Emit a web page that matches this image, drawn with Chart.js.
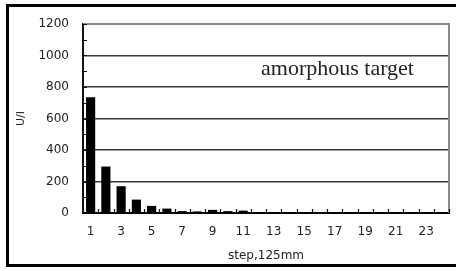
<!DOCTYPE html>
<html>
<head>
<meta charset="utf-8">
<script src="https://cdn.jsdelivr.net/npm/chart.js@4/dist/chart.umd.min.js"></script>
<style>
  html, body { margin: 0; padding: 0; background: #fff; overflow: hidden; }
  #wrap { position: relative; width: 456px; height: 271px; overflow: hidden; }
  #frame { position: absolute; left: 6px; top: 4px; width: 450px; height: 263px; border: 3px solid #000; border-right: none; box-sizing: border-box; }
  canvas { position: absolute; left: 0; top: 0; }
</style>
</head>
<body>
<div id="wrap">
  <canvas id="barChart" width="456" height="271"></canvas>
  <div id="frame"></div>
</div>
<script>
// Data
const steps = ['1','2','3','4','5','6','7','8','9','10','11','12','13','14','15','16','17','18','19','20','21','22','23','24'];
const signal = [735, 295, 170, 85, 45, 28, 12, 10, 20, 12, 15, 6, 3, 2, 2, 2, 2, 2, 2, 2, 2, 2, 2, 2];
const yTicks = [0, 200, 400, 600, 800, 1000, 1200];
const yTitle = 'U/I';
const xTitle = 'step,125mm';
const note = 'amorphous target';

const tickFont = { family: 'DejaVu Sans', size: 12 };

// Minor tick marks drawn inward, plus the grey plot border and the note
const extras = {
    id: 'extras',
    afterDatasetsDraw(chart) {
        const ctx = chart.ctx;
        const area = chart.chartArea;
        const x = chart.scales.x;
        const y = chart.scales.y;
        ctx.save();

        // grey frame on top and right
        ctx.strokeStyle = '#8a8a8a';
        ctx.lineWidth = 2;
        ctx.beginPath();
        ctx.moveTo(area.left, area.top);
        ctx.lineTo(area.right, area.top);
        ctx.lineTo(area.right, area.bottom);
        ctx.stroke();

        ctx.strokeStyle = '#111';
        ctx.lineWidth = 1.2;
        ctx.beginPath();
        for (let v = 0; v <= 1200; v += 100) {
            const py = Math.round(y.getPixelForValue(v)) + 0.5;
            ctx.moveTo(area.left, py);
            ctx.lineTo(area.left + 4, py);
        }
        for (let i = 0; i <= steps.length; i++) {
            const px = Math.round(x.getPixelForValue(i - 0.5)) + 0.5;
            ctx.moveTo(px, area.bottom);
            ctx.lineTo(px, area.bottom - 4);
        }
        ctx.stroke();

        ctx.fillStyle = '#222';
        ctx.font = '22px "Liberation Serif"';
        ctx.textAlign = 'left';
        ctx.textBaseline = 'alphabetic';
        ctx.fillText(note, 261, 75);
        ctx.restore();
    }
};

new Chart(document.getElementById('barChart'), {
    type: 'bar',
    data: {
        labels: steps,
        datasets: [{
            data: signal,
            backgroundColor: '#000',
            borderWidth: 0,
            categoryPercentage: 1,
            barPercentage: 0.6
        }]
    },
    options: {
        responsive: false,
        animation: false,
        devicePixelRatio: 1,
        layout: { padding: { left: 0, right: 7, top: 24, bottom: 0 } },
        plugins: { legend: { display: false }, tooltip: { enabled: false } },
        scales: {
            x: {
                grid: { display: false, drawTicks: false },
                border: { color: '#000', width: 2 },
                ticks: {
                    font: tickFont, color: '#222', padding: 12,
                    autoSkip: false, maxRotation: 0,
                    callback: (v, i) => (i % 2 === 0 ? steps[i] : '')
                },
                title: { display: true, text: xTitle, font: { family: 'DejaVu Sans', size: 12 }, color: '#222', padding: { top: 4, bottom: 8 } },
                afterFit: s => { s.height = 58; }
            },
            y: {
                min: 0, max: 1200,
                afterBuildTicks: s => { s.ticks = yTicks.map(v => ({ value: v })); },
                grid: {
                    drawTicks: false,
                    color: c => (c.tick.value === 1200 ? 'rgba(0,0,0,0)' : '#3a3a3a'),
                    lineWidth: c => (c.tick.value === 0 ? 0 : 1.5)
                },
                border: { color: '#111', width: 2 },
                ticks: { font: tickFont, color: '#222', padding: 14, callback: v => String(v) },
                title: { display: true, text: yTitle, font: { family: 'DejaVu Sans', size: 11 }, color: '#222', padding: { top: 15, bottom: 0 } },
                afterFit: s => { s.width = 83; }
            }
        }
    },
    plugins: [extras]
});
</script>
</body>
</html>
